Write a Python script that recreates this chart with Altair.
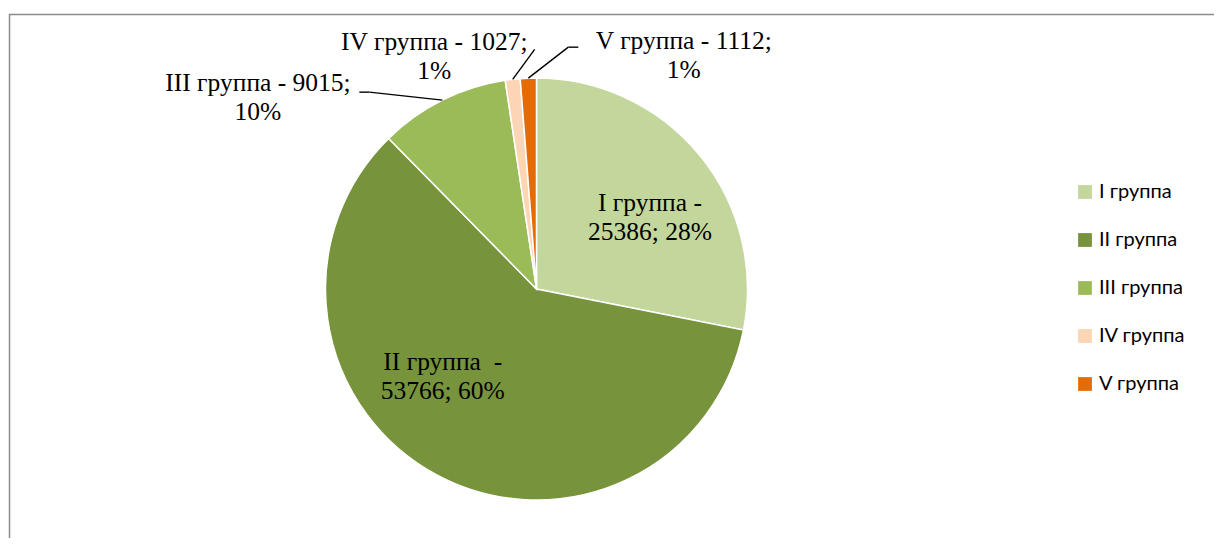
import altair as alt
import pandas as pd

groups = ["I группа", "II группа", "III группа", "IV группа", "V группа"]
values = [25386, 53766, 9015, 1027, 1112]
labels = ["I группа -\n25386; 28%", "II группа\u00a0 -\n53766; 60%", "III группа - 9015;\n10%",
          "IV группа - 1027;\n1%", "V группа - 1112;\n1%"]
colors = ["#C3D69B", "#77933C", "#9BBB59", "#FCD5B5", "#E36C09"]

df = pd.DataFrame({"group": groups, "value": values, "label": labels,
                   "order": list(range(len(groups)))})

CX, CY, R = 528.5, 281.0, 211.0
W, H = 1206, 530

base = alt.Chart(df).transform_joinaggregate(
    total="sum(value)"
).transform_window(
    cum="sum(value)", sort=[alt.SortField("order")], frame=[None, 0]
).transform_calculate(
    mid="(datum.cum - datum.value/2) / datum.total * 2 * PI",
    ax=f"{CX} + {R} * sin(datum.mid)",
    ay=f"{CY} - {R} * cos(datum.mid)",
)

border = alt.Chart(alt.Data(values=[{"a": 1}])).mark_rect(
    filled=False, stroke="#8C8C8C", strokeWidth=1.5
).encode(x=alt.value(1.5), x2=alt.value(1400), y=alt.value(6.5), y2=alt.value(800))

pie = alt.Chart(df).mark_arc(outerRadius=R, stroke="white", strokeWidth=1.5).encode(
    theta=alt.Theta("value:Q", stack=True),
    order=alt.Order("order:Q"),
    color=alt.Color(
        "group:N",
        scale=alt.Scale(domain=groups, range=colors),
        legend=alt.Legend(
            title=None, orient="none", legendX=1067, legendY=174,
            symbolType="square", symbolSize=190, symbolStrokeWidth=0,
            labelFont="Lato", labelFontSize=20, labelColor="black",
            rowPadding=28, labelOffset=4,
        ),
    ),
    x=alt.value(CX),
    y=alt.value(CY),
)

# label placement: radius from centre, then offsets (first line position)
placement = {0: (130, 13, -3), 1: (130, -32, -41), 2: (250, -167, 17.5),
             3: (250, -74, 1), 4: (250, 157, 2)}

text_layers = []
for i, (rr, dx, dy) in placement.items():
    t = base.transform_filter(f"datum.order == {i}").transform_calculate(
        **{f"lx{i}": f"{CX} + {rr} * sin(datum.mid) + ({dx})",
           f"ly{i}": f"{CY} - {rr} * cos(datum.mid) + ({dy})"}
    ).mark_text(
        font="Liberation Serif", fontSize=25.5, color="black", lineBreak="\n",
        lineHeight=29, align="center", baseline="middle",
    ).encode(
        x=alt.X(f"lx{i}:Q", scale=None), y=alt.Y(f"ly{i}:Q", scale=None), text="label:N"
    )
    text_layers.append(t)

# leader lines: (order, list of elbow offsets from the slice anchor)
leaders = {2: [(-73, -8), (-83, -8)], 3: [(22, -30)], 4: [(40, -31), (50, -31)]}
leader_layers = []
for i, pts in leaders.items():
    prev = (0, 0)
    for k, (ex, ey) in enumerate(pts):
        s = f"_{i}_{k}"
        seg = base.transform_filter(f"datum.order == {i}").transform_calculate(
            **{f"xa{s}": f"datum.ax + ({prev[0]})", f"ya{s}": f"datum.ay + ({prev[1]})",
               f"xb{s}": f"datum.ax + ({ex})", f"yb{s}": f"datum.ay + ({ey})"}
        ).mark_rule(color="black", strokeWidth=1.4).encode(
            x=alt.X(f"xa{s}:Q", scale=None), y=alt.Y(f"ya{s}:Q", scale=None),
            x2=f"xb{s}:Q", y2=f"yb{s}:Q",
        )
        leader_layers.append(seg)
        prev = (ex, ey)

chart = alt.layer(border, pie, *leader_layers, *text_layers).properties(
    width=W, height=H, padding=0, autosize=alt.AutoSizeParams(type="none")
).configure_view(stroke=None)

chart.save("out.html", embed_options={"renderer": "svg", "actions": False})
